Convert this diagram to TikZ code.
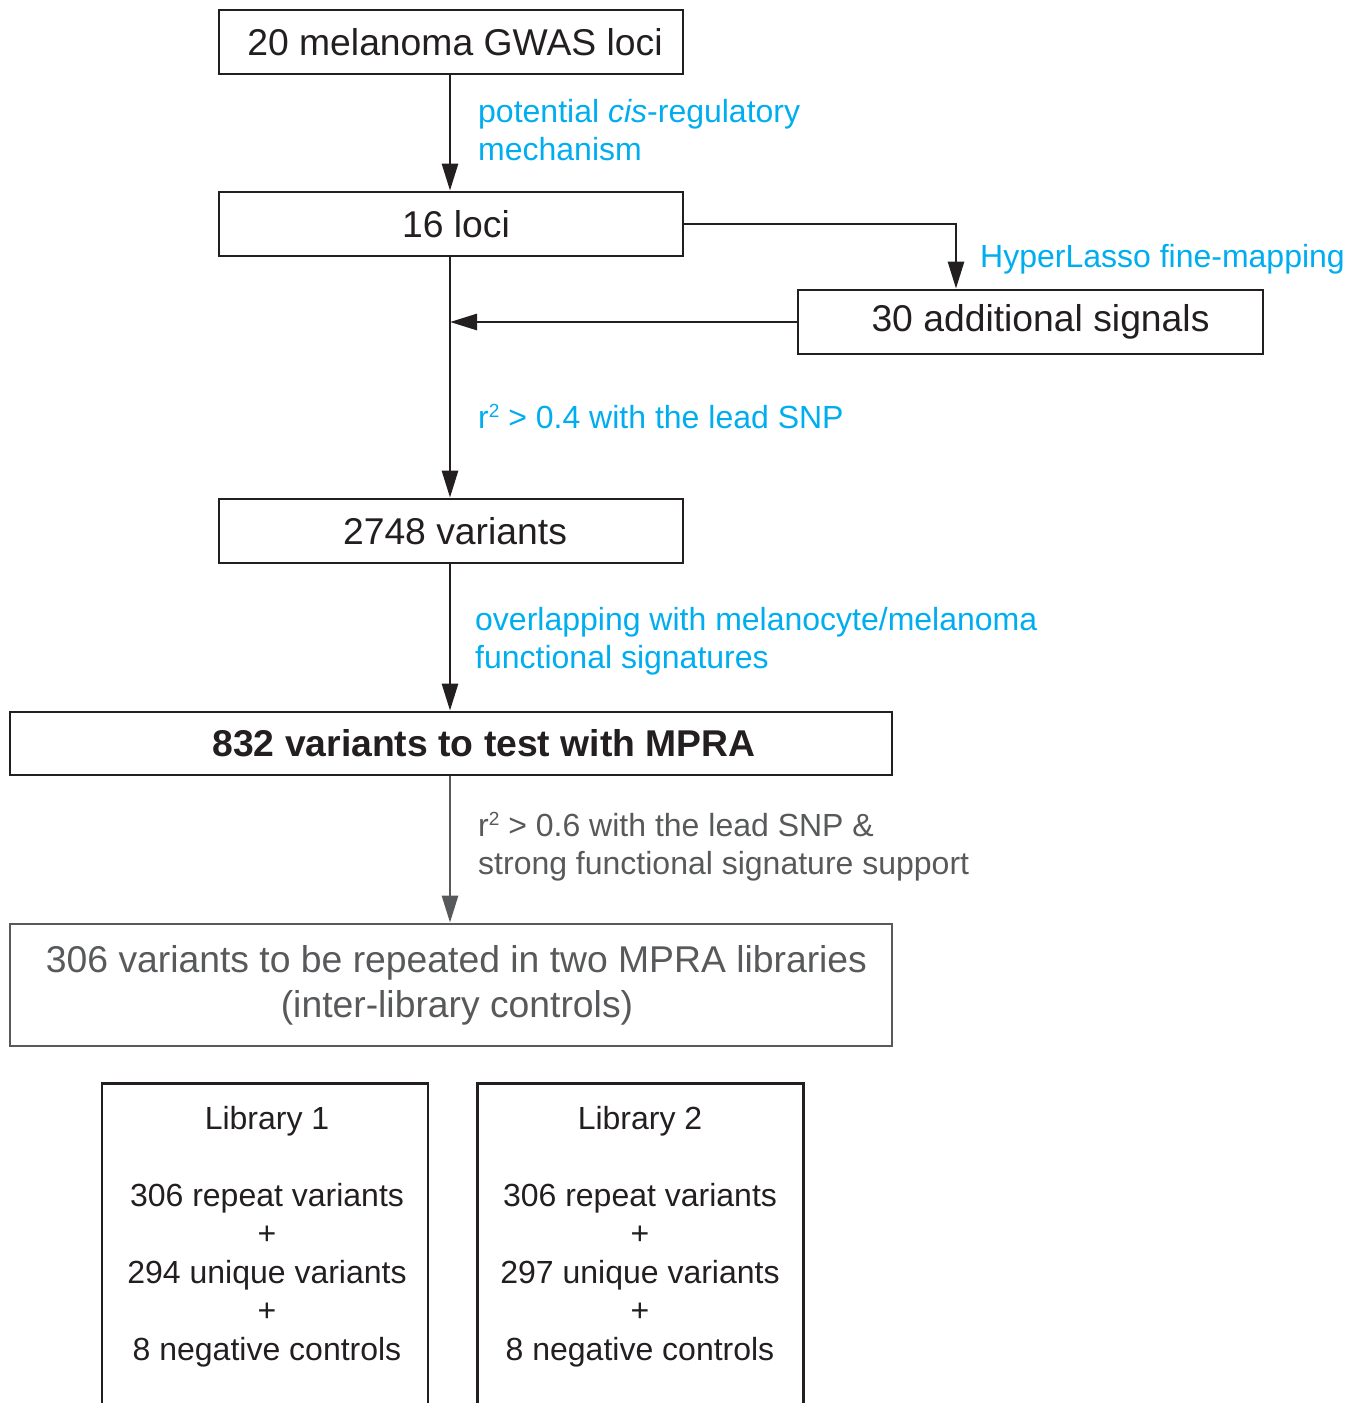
\documentclass[tikz,border=0pt]{standalone}
\usepackage{fontspec}
\setmainfont{Liberation Sans}
\usetikzlibrary{arrows.meta}
\definecolor{ink}{HTML}{231F20}
\definecolor{cyanlab}{RGB}{0,174,239}
\definecolor{graytxt}{HTML}{58595B}
\newcommand{\sqr}{\raisebox{0.33em}{\fontsize{19}{19}\selectfont 2}}
\tikzset{
  box/.style={draw=ink, line width=2.8pt, minimum height=64pt, inner sep=0pt, text=ink,
    font=\fontsize{37.3}{45}\selectfont},
  conn/.style={draw=ink, line width=2.8pt, -{Triangle[length=27pt,width=16pt]}},
  lab/.style={text=cyanlab, align=left, inner sep=0pt, anchor=base west,
    font=\fontsize{32}{38.5}\selectfont},
  glab/.style={text=graytxt, align=left, inner sep=0pt, anchor=base west,
    font=\fontsize{32}{38.5}\selectfont},
  libbox/.style={draw=ink, line width=2.8pt, minimum width=326pt, minimum height=400pt, anchor=north, inner sep=0pt},
  libtxt/.style={text=ink, align=center, inner sep=0pt, anchor=base,
    font=\fontsize{32}{38.5}\selectfont},
}
\begin{document}
\begin{tikzpicture}[x=1pt,y=-1pt]
\useasboundingbox (0,0) rectangle (1359,1403);
\node[box, minimum width=464pt] (b1) at (451,42) {\hspace*{8pt}20 melanoma GWAS loci};
\node[box, minimum width=464pt] (b2) at (451,224) {\hspace*{10pt}16 loci};
\node[box, minimum width=465pt] (b3) at (1030.5,322) {\hspace*{20pt}30 additional signals};
\node[box, minimum width=464pt] (b4) at (451,531) {\hspace*{8pt}2748 variants};
\node[box, minimum width=882pt, minimum height=63pt, font=\fontsize{37.3}{45}\selectfont\bfseries] (b5) at (451,743.5) {\hspace*{66pt}832 variants to test with MPRA};
\node[box, draw=graytxt, text=graytxt, minimum width=882pt, minimum height=122pt, align=center] (b6) at (451,985) {\hspace*{11pt}306 variants to be repeated in two MPRA libraries\\\hspace*{12pt}(inter-library controls)};

\node[libbox] (l1) at (265,1082) {};
\node[libbox] (l2) at (640.5,1082) {};
\node[libtxt] (t1) at (267,1360) {Library 1\\[38.5pt]306 repeat variants\\+\\294 unique variants\\+\\8 negative controls};
\node[libtxt] (t2) at (640,1360) {Library 2\\[38.5pt]306 repeat variants\\+\\297 unique variants\\+\\8 negative controls};

\draw[conn] (b1.south -| 450,0) -- (b2.north -| 450,0);
\draw[conn] (b2.east) -| ([xshift=-74.5pt]b3.north);
\draw[conn] (b2.south -| 450,0) -- (b4.north -| 450,0);
\coordinate (join) at (450,322);
\draw[conn] (b3.west) -- (join);
\draw[conn] (b4.south -| 450,0) -- (b5.north -| 450,0);
\draw[conn, draw=graytxt, fill=graytxt] (b5.south -| 450,0) -- (b6.north -| 450,0);

\node[lab] (m1) at (478,160.5) {potential \textit{cis}-regulatory\\mechanism};
\node[lab] (m2) at (980,267) {HyperLasso fine-mapping};
\node[lab] (m3) at (478,428) {r\sqr{} > 0.4 with the lead SNP};
\node[lab] (m4) at (475,668.5) {overlapping with melanocyte/melanoma\\functional signatures};
\node[glab] (m5) at (478,874.5) {r\sqr{} > 0.6 with the lead SNP \&\\strong functional signature support};
\end{tikzpicture}
\end{document}
